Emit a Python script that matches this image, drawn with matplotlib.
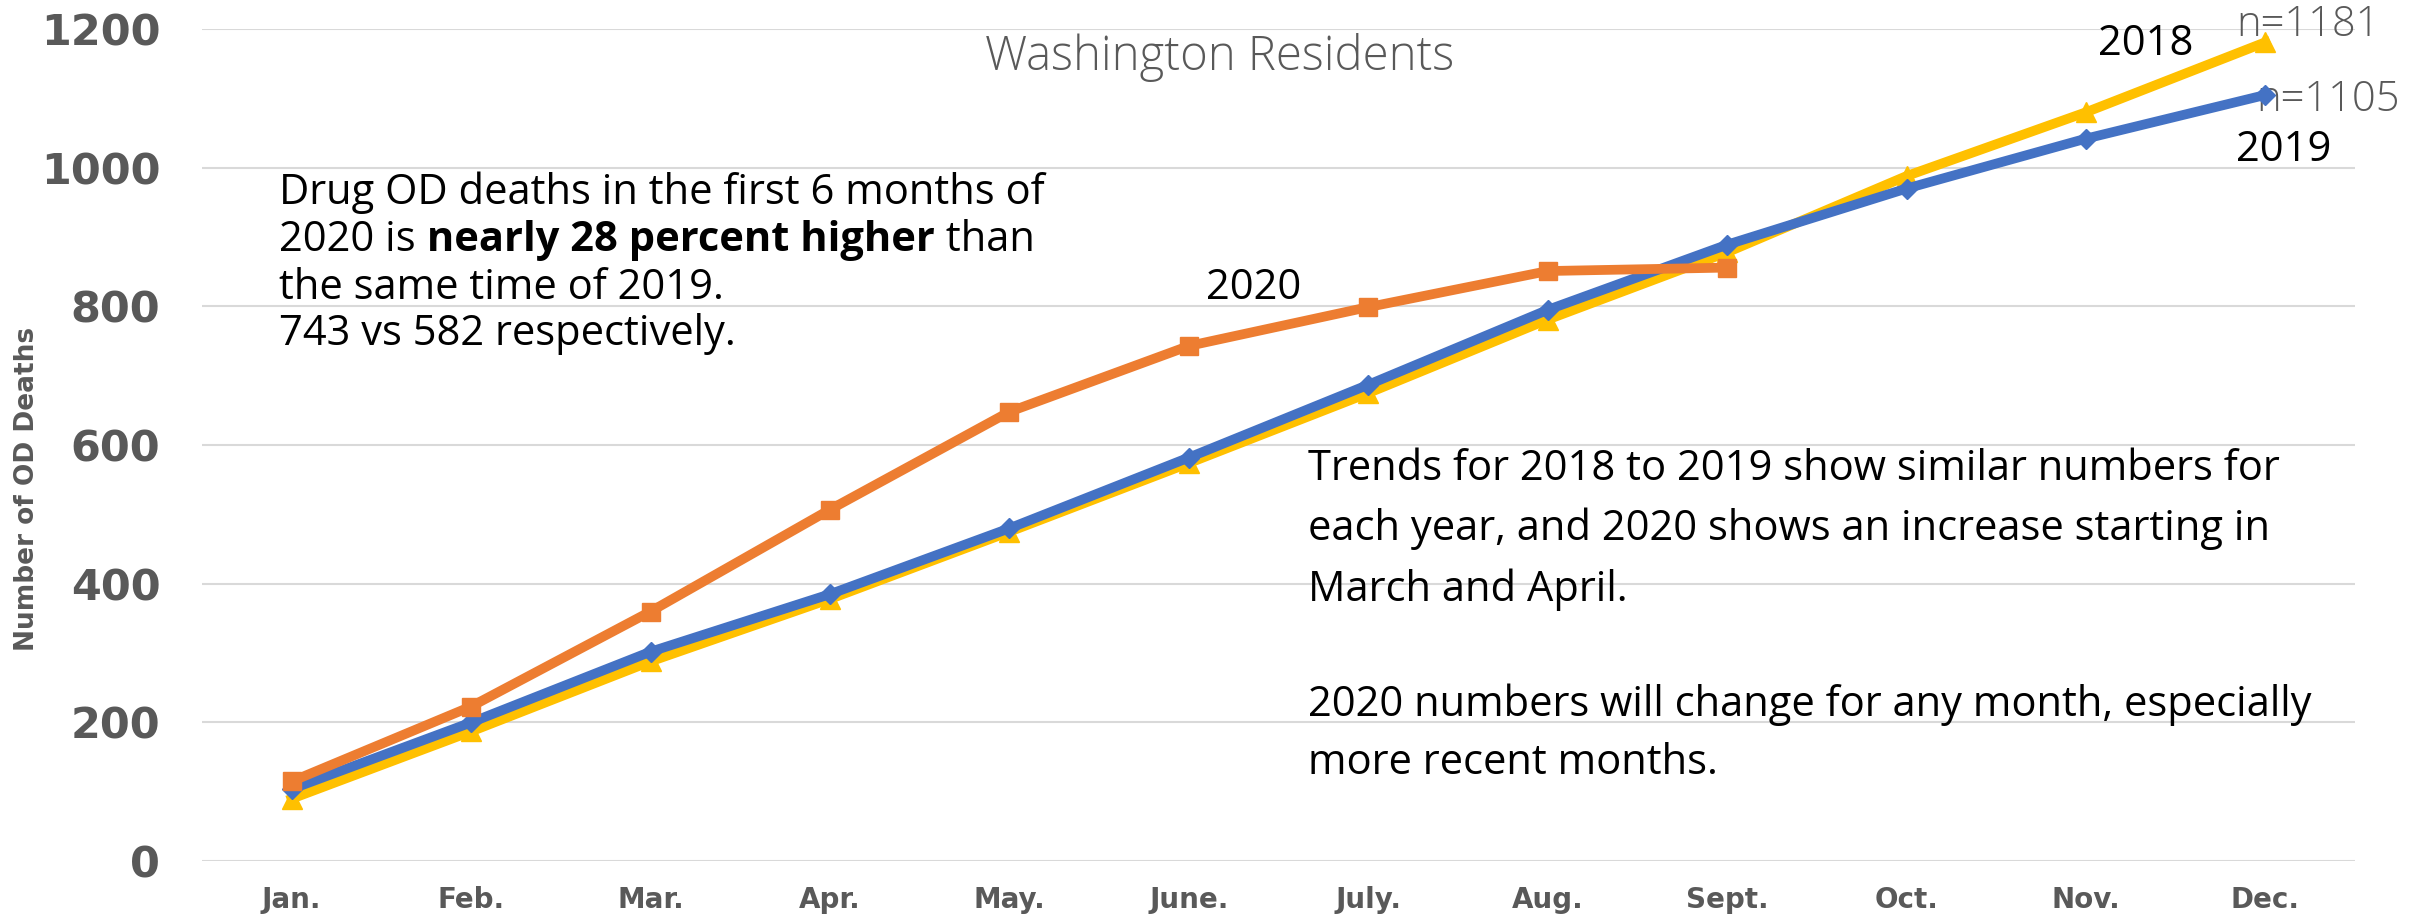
import matplotlib.pyplot as plt

months = ["Jan.", "Feb.", "Mar.", "Apr.", "May.", "June.", "July.", "Aug.",
          "Sept.", "Oct.", "Nov.", "Dec."]
deaths_2018 = [90, 187, 288, 378, 475, 574, 675, 781, 878, 988, 1080, 1181]
deaths_2019 = [104, 200, 302, 385, 480, 582, 687, 795, 889, 970, 1042, 1105]
deaths_2020 = [115, 223, 360, 507, 648, 743, 799, 851, 856]
y_ticks = [0, 200, 400, 600, 800, 1000, 1200]

GRAY = "#595959"
TEXT_FONT = "Open Sans"
TEXT_SIZE = 30


def main() -> None:
    fig = plt.figure(figsize=(24.33, 9.22), dpi=100)
    ax = fig.add_axes([0.083, 0.066, 0.885, 0.9025])

    x = list(range(len(months)))
    ax.plot(x, deaths_2018, color="#FFC000", lw=7, marker="^", ms=14,
            zorder=3)
    ax.plot(x, deaths_2019, color="#4472C4", lw=7, marker="D", ms=10,
            zorder=4)
    ax.plot(x[:len(deaths_2020)], deaths_2020, color="#ED7D31", lw=7,
            marker="s", ms=13, zorder=5)

    ax.set_xlim(-0.5, len(months) - 0.5)
    ax.set_ylim(0, 1200)
    ax.set_xticks(x)
    ax.set_xticklabels(months, fontsize=20, fontweight="bold", color=GRAY,
                       family="DejaVu Sans")
    ax.set_yticks(y_ticks)
    ax.set_yticklabels([str(v) for v in y_ticks], fontsize=31,
                       fontweight="bold", color=GRAY, family="DejaVu Sans")
    ax.tick_params(length=0, axis="x", pad=18)
    ax.tick_params(length=0, axis="y", pad=30)
    ax.grid(axis="y", color="#D9D9D9", lw=1.5)
    ax.set_axisbelow(True)
    for spine in ax.spines.values():
        spine.set_visible(False)

    fig.text(0.011, 0.47, "Number of OD Deaths", rotation=90, fontsize=19,
             fontweight="bold", color=GRAY, family="DejaVu Sans",
             ha="center", va="center")

    ax.text(5.17, 1159, "Washington Residents", fontsize=34, color=GRAY,
            family=TEXT_FONT, fontweight="light", ha="center", va="center")

    # left note, second line has a bold middle part
    opts = dict(fontsize=TEXT_SIZE, family=TEXT_FONT, color="black")
    ax.text(-0.07, 964, "Drug OD deaths in the first 6 months of",
            va="center", **opts)
    first = ax.text(-0.07, 896, "2020 is", va="center", **opts)
    bold = ax.annotate(" nearly 28 percent higher", xy=(1, 0),
                       xycoords=first, va="bottom", fontweight="bold",
                       **opts)
    ax.annotate(" than", xy=(1, 0), xycoords=bold, va="bottom", **opts)
    ax.text(-0.07, 827, "the same time of 2019.", va="center", **opts)
    ax.text(-0.07, 760, "743 vs 582 respectively.", va="center", **opts)

    right_lines = [
        (565, "Trends for 2018 to 2019 show similar numbers for"),
        (480, "each year, and 2020 shows an increase starting in"),
        (392, "March and April."),
        (225, "2020 numbers will change for any month, especially"),
        (142, "more recent months."),
    ]
    for y, line in right_lines:
        ax.text(5.665, y, line, va="center", **opts)

    ax.text(5.36, 826, "2020", ha="center", va="center", **opts)
    ax.text(10.33, 1178, "2018", ha="center", va="center", **opts)
    ax.text(11.1, 1025, "2019", ha="center", va="center", **opts)
    ax.text(10.84, 1206, "n=1181", ha="left", va="center", fontsize=TEXT_SIZE,
            family=TEXT_FONT, fontweight="light", color=GRAY, clip_on=False)
    ax.text(10.95, 1098, "n=1105", ha="left", va="center", fontsize=TEXT_SIZE,
            family=TEXT_FONT, fontweight="light", color=GRAY, clip_on=False)

    fig.savefig("out.png", dpi=100)
    plt.close(fig)


if __name__ == "__main__":
    main()
